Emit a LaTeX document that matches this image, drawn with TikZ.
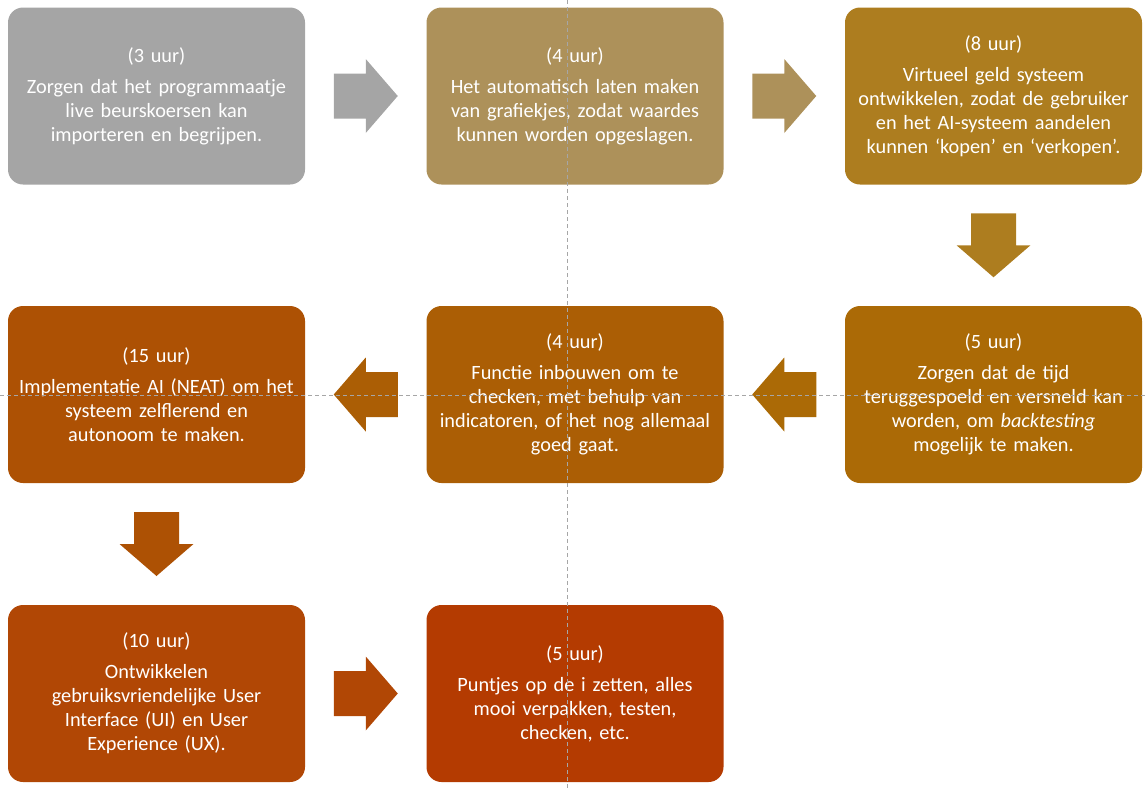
\documentclass[tikz,border=0pt]{standalone}
\usepackage{fontspec}
\setmainfont{Carlito}
\usetikzlibrary{calc}
\definecolor{stap1}{HTML}{A5A5A5}
\definecolor{stap2}{HTML}{AD915A}
\definecolor{stap3}{HTML}{AD7D1F}
\definecolor{stap4}{HTML}{AB6A06}
\definecolor{stap5}{HTML}{AB5E05}
\definecolor{stap6}{HTML}{AD5104}
\definecolor{stap7}{HTML}{B14705}
\definecolor{stap8}{HTML}{B43B01}
\tikzset{
    blokpijl/.pic={
        \fill (-32,-22.5) -- (0,-22.5) -- (0,-37) -- (32,0) -- (0,37) -- (0,22.5) -- (-32,22.5) -- cycle;
    }
}

\begin{document}
\begin{tikzpicture}[x=1pt, y=-1pt,
        stap/.style={rounded corners=15pt, minimum width=297pt, minimum height=177pt,
            text width=292pt, align=center, text=white, inner sep=0pt,
            font=\fontsize{20.3}{24}\selectfont},
        hulplijn/.style={draw=black!35, dash pattern=on 4pt off 3pt, line width=0.6pt}]
    \useasboundingbox (0,0) rectangle (1146,788);
    % eerste rij
    \node[stap, fill=stap1] (import) at (156.5,96) {(3 uur)\\[7pt] Zorgen dat het programmaatje\\ live beurskoersen kan\\ importeren en begrijpen.};
    \node[stap, fill=stap2] (grafiek) at (575,96) {(4 uur)\\[7pt] Het automatisch laten maken\\ van grafiekjes, zodat waardes\\ kunnen worden opgeslagen.};
    \node[stap, fill=stap3] (geld) at (993.5,96) {(8 uur)\\[7pt] Virtueel geld systeem\\ ontwikkelen, zodat de gebruiker\\ en het AI-systeem aandelen\\ kunnen ‘kopen’ en ‘verkopen’.};
    % tweede rij
    \node[stap, fill=stap4] (tijd) at (993.5,394.5) {(5 uur)\\[7pt] Zorgen dat de tijd\\ teruggespoeld en versneld kan\\ worden, om \textit{backtesting}\\ mogelijk te maken.};
    \node[stap, fill=stap5] (check) at (575,394.5) {(4 uur)\\[7pt] Functie inbouwen om te\\ checken, met behulp van\\ indicatoren, of het nog allemaal\\ goed gaat.};
    \node[stap, fill=stap6] (neat) at (156.5,394.5) {(15 uur)\\[7pt] Implementatie AI (NEAT) om het\\ systeem zelflerend en\\ autonoom te maken.};
    % derde rij
    \node[stap, fill=stap7] (ui) at (156.5,693.5) {(10 uur)\\[7pt] Ontwikkelen\\ gebruiksvriendelijke User\\ Interface (UI) en User\\ Experience (UX).};
    \node[stap, fill=stap8] (puntjes) at (575,693.5) {(5 uur)\\[7pt] Puntjes op de i zetten, alles\\ mooi verpakken, testen,\\ checken, etc.};
    % pijlen
    \pic[fill=stap1] at ($(import.east)!0.5!(grafiek.west)$) {blokpijl};
    \pic[fill=stap2] at ($(grafiek.east)!0.5!(geld.west)$) {blokpijl};
    \pic[fill=stap3, rotate=-90] at ($(geld.south)!0.5!(tijd.north)$) {blokpijl};
    \pic[fill=stap4, rotate=180] at ($(tijd.west)!0.5!(check.east)$) {blokpijl};
    \pic[fill=stap5, rotate=180] at ($(check.west)!0.5!(neat.east)$) {blokpijl};
    \pic[fill=stap6, rotate=-90] at ($(neat.south)!0.5!(ui.north)$) {blokpijl};
    \pic[fill=stap7] at ($(ui.east)!0.5!(puntjes.west)$) {blokpijl};
    % hulplijnen
    \draw[hulplijn] (567,0) -- (567,788);
    \draw[hulplijn] (0,395) -- (1146,395);
\end{tikzpicture}
\end{document}
